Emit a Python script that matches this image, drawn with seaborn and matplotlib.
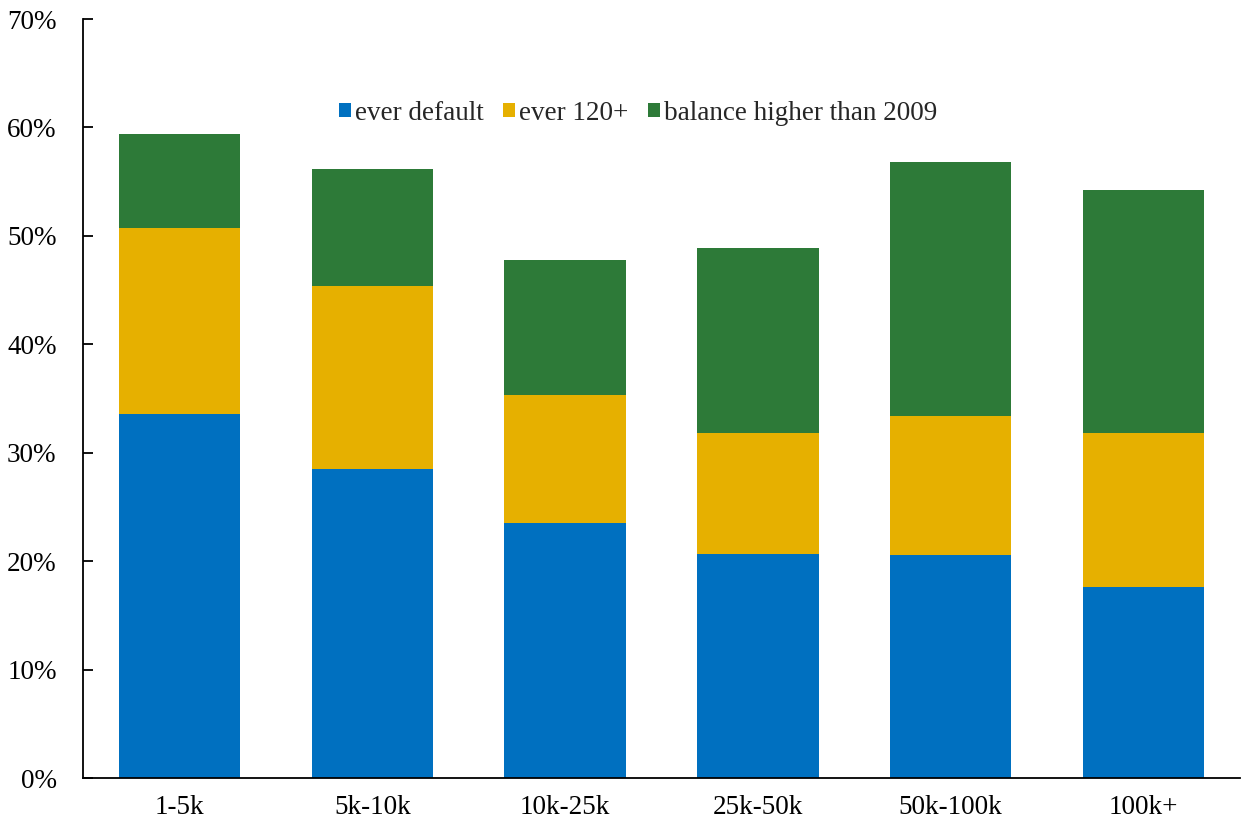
import matplotlib
matplotlib.use("Agg")
import matplotlib.pyplot as plt
import seaborn as sns
import numpy as np
from matplotlib.patches import Patch
from matplotlib.ticker import FuncFormatter, MultipleLocator

categories = ["1-5k", "5k-10k", "10k-25k", "25k-50k", "50k-100k", "100k+"]
ever_default = [33.6, 28.5, 23.5, 20.7, 20.6, 17.6]
ever_120 = [17.1, 16.9, 11.8, 11.1, 12.8, 14.2]
balance_higher = [8.7, 10.8, 12.5, 17.1, 23.4, 22.4]
series_names = ["ever default", "ever 120+", "balance higher than 2009"]
colors = ["#0070C0", "#E6B000", "#2D7A38"]

sns.set_theme(style="white")
plt.rcParams['font.family'] = ['Liberation Serif', 'DejaVu Serif']

fig = plt.figure(figsize=(12.44, 8.24), dpi=100)
ax = fig.add_axes([83/1244, 1-778/824, (1240-83)/1244, (778-19)/824])

bottom = np.zeros(len(categories))
for vals, name, col in zip([ever_default, ever_120, balance_higher], series_names, colors):
    sns.barplot(x=categories, y=vals, bottom=bottom, color=col, width=0.63,
                ax=ax, saturation=1, edgecolor="none", linewidth=0)
    bottom = bottom + np.array(vals)

ax.set_xlim(-0.5, 5.5)
ax.set_ylim(0, 70)
ax.yaxis.set_major_locator(MultipleLocator(10))
ax.yaxis.set_major_formatter(FuncFormatter(lambda v, p: f"{v:.0f}%"))
for s in ["top", "right"]:
    ax.spines[s].set_visible(False)
for s in ["left", "bottom"]:
    ax.spines[s].set_color("black")
    ax.spines[s].set_linewidth(1.3)
ax.tick_params(axis="y", direction="in", length=7, width=1.3, color="black",
               left=True, labelsize=19.5, pad=19, labelcolor="black")
ax.tick_params(axis="x", length=0, labelsize=19.5, pad=12, labelcolor="black")
ax.set_xlabel("")
ax.set_ylabel("")

handles = [Patch(facecolor=c, edgecolor="none", label=n) for c, n in zip(colors, series_names)]
ax.legend(handles=handles, loc="center", bbox_to_anchor=((638-83)/(1240-83), (778-113)/(778-19)),
          ncol=3, frameon=False, fontsize=19.5, handlelength=0.45, handleheight=0.45,
          handletextpad=0.15, columnspacing=0.7)

fig.savefig("out.png", dpi=100)
